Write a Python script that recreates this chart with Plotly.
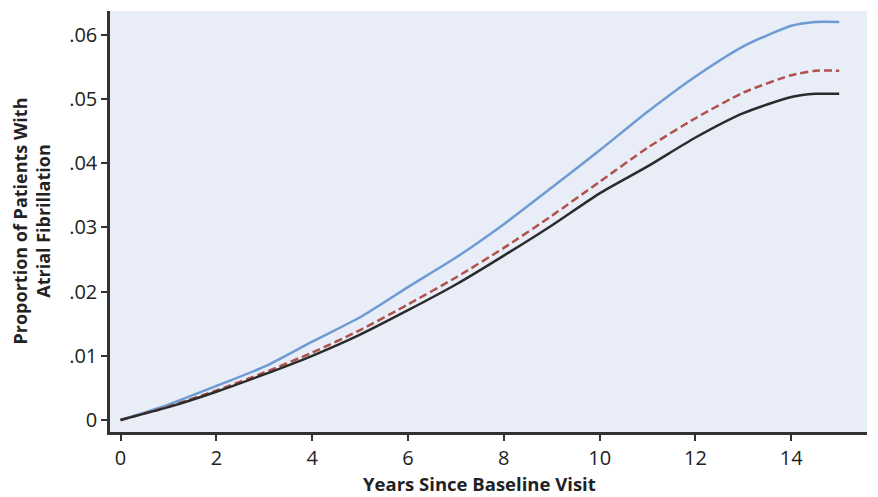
import plotly.graph_objects as go

years = [0, 1, 2, 3, 4, 5, 6, 7, 8, 9, 10, 11, 12, 13, 14, 14.5, 15]
blue = [0, 0.0024, 0.0053, 0.0083, 0.0122, 0.0160, 0.0207, 0.0253, 0.0305, 0.0362,
        0.0420, 0.0480, 0.0535, 0.0582, 0.0614, 0.0620, 0.0620]
dashed = [0, 0.0021, 0.0046, 0.0074, 0.0105, 0.0140, 0.0180, 0.0222, 0.0268, 0.0318,
          0.0371, 0.0424, 0.0470, 0.0510, 0.0537, 0.0544, 0.0544]
black = [0, 0.0020, 0.0044, 0.0071, 0.0100, 0.0133, 0.0171, 0.0211, 0.0256, 0.0303,
         0.0353, 0.0395, 0.0440, 0.0478, 0.0503, 0.0508, 0.0508]

x_ticks = [0, 2, 4, 6, 8, 10, 12, 14]
y_ticks = [0, 0.01, 0.02, 0.03, 0.04, 0.05, 0.06]
y_ticklabels = ["0", ".01", ".02", ".03", ".04", ".05", ".06"]
x_title = "Years Since Baseline Visit"
y_title = "Proportion of Patients With<br>Atrial Fibrillation"

fig = go.Figure()
fig.add_trace(go.Scatter(x=years, y=blue, mode="lines", line=dict(color="#6e9bd3", width=2.5, shape="spline", smoothing=0.6)))
fig.add_trace(go.Scatter(x=years, y=dashed, mode="lines", line=dict(color="#b0524c", width=2.5, dash="8px,4px", shape="spline", smoothing=0.6)))
fig.add_trace(go.Scatter(x=years, y=black, mode="lines", line=dict(color="#2b2b2b", width=2.5, shape="spline", smoothing=0.6)))

# page body has an 8px margin, so figure is shifted by 8px right and down
W, H = 870, 489
L, R, T, B = 102, 11, 3, 65
PW, PH = W - L - R, H - T - B
fig.update_layout(
    width=W, height=H,
    margin=dict(l=L, r=R, t=T, b=B),
    paper_bgcolor="white",
    plot_bgcolor="#e8edf7",
    showlegend=False,
    font=dict(family="Open Sans", color="#222"),
    xaxis=dict(
        range=[-0.22, 15.58], tickvals=x_ticks, showgrid=False, zeroline=False,
        showline=True, linecolor="#333", linewidth=2.5,
        ticks="outside", ticklen=6, tickwidth=2, tickcolor="#333",
        tickfont=dict(size=20, family="Open Sans", color="#222"),
    ),
    yaxis=dict(
        range=[-0.00187, 0.0637], tickvals=y_ticks, ticktext=y_ticklabels,
        showgrid=False, zeroline=False,
        showline=True, linecolor="#333", linewidth=2.5,
        ticks="outside", ticklen=6, tickwidth=2, tickcolor="#333",
        tickfont=dict(size=20, family="Open Sans", color="#222"),
    ),
    annotations=[
        dict(text=y_title, xref="paper", yref="paper", x=(23 - L) / PW, y=0.5,
             xanchor="center", yanchor="middle", textangle=-90, showarrow=False,
             font=dict(size=18, family="Open Sans", weight="bold", color="#222")),
        dict(text=x_title, xref="paper", yref="paper", x=(471 - L) / PW, y=-(475 - (T + PH)) / PH,
             xanchor="center", yanchor="middle", showarrow=False,
             font=dict(size=18.5, family="Open Sans", weight="bold", color="#222")),
    ],
)

fig.write_html("out.html")
